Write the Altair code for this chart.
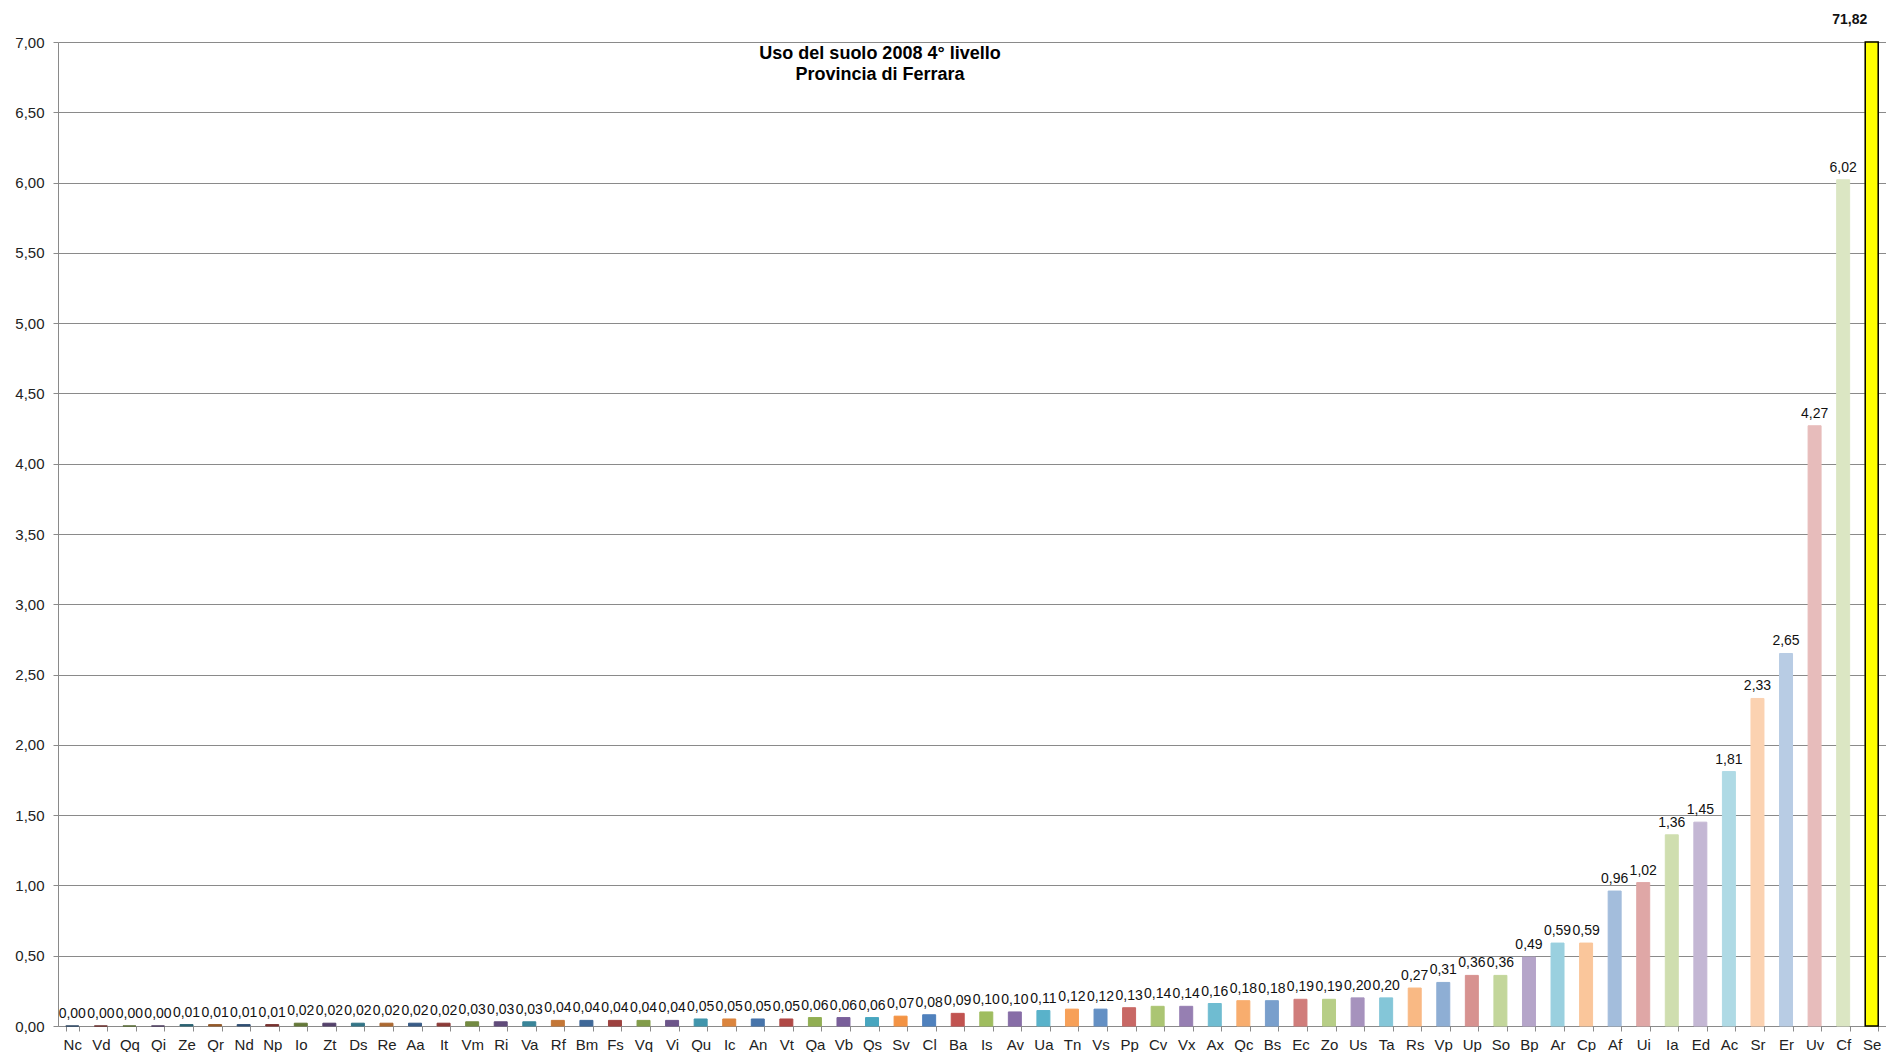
import altair as alt
import pandas as pd

codes = ["Nc","Vd","Qq","Qi","Ze","Qr","Nd","Np","Io","Zt","Ds","Re","Aa","It","Vm","Ri",
         "Va","Rf","Bm","Fs","Vq","Vi","Qu","Ic","An","Vt","Qa","Vb","Qs","Sv","Cl","Ba",
         "Is","Av","Ua","Tn","Vs","Pp","Cv","Vx","Ax","Qc","Bs","Ec","Zo","Us","Ta","Rs",
         "Vp","Up","So","Bp","Ar","Cp","Af","Ui","Ia","Ed","Ac","Sr","Er","Uv","Cf","Se"]
values = [0.00,0.00,0.00,0.00,0.01,0.01,0.01,0.01,0.02,0.02,0.02,0.02,0.02,0.02,0.03,0.03,
          0.03,0.04,0.04,0.04,0.04,0.04,0.05,0.05,0.05,0.05,0.06,0.06,0.06,0.07,0.08,0.09,
          0.10,0.10,0.11,0.12,0.12,0.13,0.14,0.14,0.16,0.18,0.18,0.19,0.19,0.20,0.20,0.27,
          0.31,0.36,0.36,0.49,0.59,0.59,0.96,1.02,1.36,1.45,1.81,2.33,2.65,4.27,6.02,71.82]
highlight = "Se"
title_lines = ["Uso del suolo 2008 4° livello", "Provincia di Ferrara"]

base_palette = [(0x4F, 0x81, 0xBD), (0xC0, 0x50, 0x4D), (0x9B, 0xBB, 0x59),
                (0x80, 0x64, 0xA2), (0x4B, 0xAC, 0xC6), (0xF7, 0x96, 0x46)]


def shade(i):
    r, g, b = base_palette[i % 6]
    if i < 30:
        f = (30 - i) / 62.0
        r, g, b = [int(c * (1 - f)) for c in (r, g, b)]
    else:
        f = min(0.65, (i - 30) / 50.0)
        r, g, b = [int(c + (255 - c) * f) for c in (r, g, b)]
    return "#%02x%02x%02x" % (r, g, b)


df = pd.DataFrame({
    "code": codes,
    "value": values,
    "label": [f"{v:.2f}".replace(".", ",") for v in values],
    "color": [("#ffff00" if c == highlight else shade(i)) for i, c in enumerate(codes)],
})

FONT = "Liberation Sans"

x_enc = alt.X("code:N", sort=codes, title=None,
              scale=alt.Scale(paddingInner=0.545, paddingOuter=0.2725),
              axis=alt.Axis(labelAngle=0, labelFont=FONT, labelFontSize=15, labelColor="#222222",
                            domainColor="#8a8a8a", tickColor="#8a8a8a", tickBand="extent",
                            tickSize=5, labelPadding=6, grid=False))
y_enc = alt.Y("value:Q", title=None,
              scale=alt.Scale(domain=[0, 7], clamp=True, nice=False),
              axis=alt.Axis(values=[i * 0.5 for i in range(15)],
                            labelExpr="replace(format(datum.value, '.2f'), '.', ',')",
                            labelFont=FONT, labelFontSize=15, labelColor="#222222",
                            domainColor="#8a8a8a", tickColor="#8a8a8a", tickSize=5,
                            gridColor="#8a8a8a", gridWidth=1, labelPadding=9))

base = alt.Chart(df)

bars = base.mark_bar(strokeWidth=1).encode(
    x=x_enc, y=y_enc,
    color=alt.Color("color:N", scale=None),
    stroke=alt.Stroke("color:N", scale=None),
)

se_bar = base.transform_filter(alt.datum.code == highlight).mark_bar(
    stroke="#000000", strokeWidth=1.5, fill="#ffff00"
).encode(x=x_enc, y=y_enc)

labels = base.transform_filter(alt.datum.code != highlight).mark_text(
    font=FONT, fontSize=14, baseline="bottom", dy=-5, color="#111111"
).encode(x=x_enc, y=y_enc, text="label:N")

se_label = base.transform_filter(alt.datum.code == highlight).mark_text(
    font=FONT, fontSize=14, fontWeight="bold", baseline="bottom", dy=-15, dx=-22,
    color="#111111"
).encode(x=x_enc, y=y_enc, text="label:N")

title = alt.Chart(pd.DataFrame({"t": [0]})).mark_text(
    font=FONT, fontSize=18, fontWeight="bold", color="#000000",
    align="center", baseline="middle", lineHeight=21,
).encode(x=alt.value(822), y=alt.value(12), text=alt.value(title_lines))

chart = alt.layer(bars, se_bar, labels, se_label, title).properties(
    width=1828, height=984,
    padding={"left": 6, "top": 5, "right": 0, "bottom": 0},
).configure_view(stroke=None).configure_axis(gridOpacity=1)

chart.save("out.html", embed_options={"renderer": "svg", "actions": False})
